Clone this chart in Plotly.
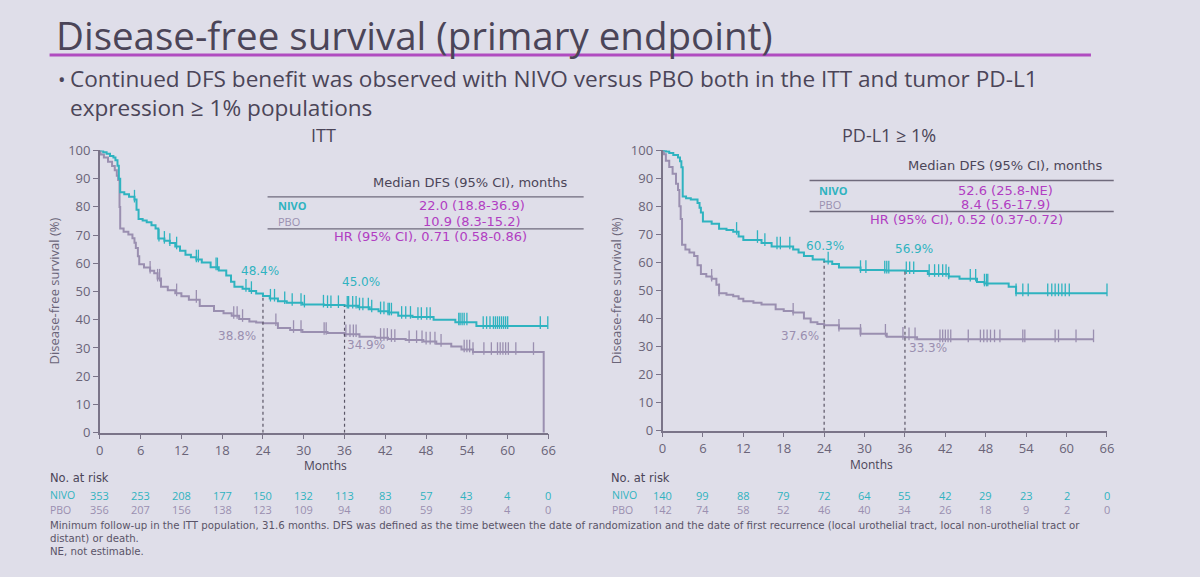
import plotly.graph_objects as go

# ---------------- data ----------------
months_ticks = [0, 6, 12, 18, 24, 30, 36, 42, 48, 54, 60, 66]
surv_ticks = [0, 10, 20, 30, 40, 50, 60, 70, 80, 90, 100]

# ITT population
itt_nivo_t = [0, 0.5, 1.0, 1.5, 2.0, 2.3, 2.6, 2.8, 3.0, 3.6, 4.3, 5.1, 5.4, 5.7, 6.3, 6.9, 7.6, 8.2, 8.6, 9.5,
              10.3, 11.1, 11.8, 12.6, 13.4, 14.2, 15.0, 16.3, 17.5, 18.6, 19.3, 19.8, 21.0, 22.0, 23.0, 24.0,
              25.0, 26.2, 27.5, 29.8, 33.0, 36.0, 38.0, 39.7, 41.0, 42.4, 43.9, 46.0, 49.1, 52.3, 55.4, 65.9]
itt_nivo_s = [100, 99.4, 98.8, 98, 97.5, 96.5, 94.6, 90, 85.2, 84.5, 83.6, 82.6, 79, 75.7, 75.2, 74.6, 73.5, 72.3,
              68.8, 68.0, 67.2, 66.0, 64.5, 63.0, 62.2, 61.4, 60.3, 58.6, 57.5, 55.7, 53.5, 51.7, 51.0, 50.2, 49.3,
              48.4, 47.5, 46.6, 46.0, 45.4, 45.2, 45.0, 44.4, 43.7, 43.0, 42.6, 41.4, 41.0, 40.0, 39.1, 37.8, 37.8]
itt_nivo_cens = [5.1, 8.7, 9.5, 10.3, 11.3, 14.2, 14.5, 17.1, 17.3, 21.5, 22.3, 25.1, 25.7, 27.2, 28.3, 29.6, 30.1,
                 32.9, 33.5, 34.0, 35.1, 36.4, 36.6, 37.2, 37.7, 38.2, 38.7, 39.5, 40.0, 41.3, 41.8, 42.4, 42.6,
                 42.9, 44.4, 45.0, 45.7, 46.8, 47.3, 48.1, 48.6, 52.8, 53.0, 53.3, 53.6, 54.0, 56.4, 56.9, 57.4,
                 57.9, 58.2, 58.5, 58.8, 59.1, 59.4, 59.7, 60.0, 64.8, 65.9]

itt_pbo_t = [0, 0.1, 0.6, 1.2, 1.8, 2.2, 2.5, 2.7, 2.9, 3.0, 3.5, 4.2, 4.8, 5.1, 5.3, 5.6, 5.8, 6.5, 7.4, 8.0, 8.5,
             9.0, 10.0, 11.1, 12.0, 13.1, 14.7, 16.8, 18.2, 19.4, 20.5, 22.0, 23.0, 24.0, 26.2, 28.0, 29.8, 33.5,
             36.0, 38.2, 40.5, 42.4, 45.0, 47.6, 49.5, 51.7, 53.2, 54.9, 65.3, 65.3]
itt_pbo_s = [100, 98.6, 97.5, 96, 94.5, 93, 91, 89.5, 80, 72.3, 71.2, 70.2, 68.9, 67.3, 65.4, 62.5, 59.7, 58.5,
             57.4, 56.5, 54.6, 51.7, 50.5, 49.4, 48.3, 47.1, 44.9, 43.1, 42.3, 41.4, 40.3, 39.4, 39.0, 38.8, 37.1,
             36.4, 35.7, 35.3, 34.9, 34.0, 33.6, 33.2, 32.8, 32.3, 31.5, 30.5, 29.5, 28.6, 28.6, 0]
itt_pbo_cens = [7.4, 8.5, 8.8, 11.3, 14.2, 19.7, 20.2, 21.0, 25.9, 28.5, 29.6, 33.0, 33.3, 36.2, 36.8, 37.3, 37.7,
                41.3, 41.8, 42.3, 42.9, 43.4, 45.5, 46.6, 47.4, 48.0, 48.6, 49.3, 50.2, 53.6, 54.0, 54.4, 54.9,
                56.5, 57.6, 58.5, 58.9, 59.3, 59.7, 60.1, 61.2, 63.8]

# PD-L1 >= 1% population
pdl1_nivo_t = [0, 0.5, 1.0, 1.6, 2.3, 2.6, 2.8, 3.0, 3.5, 4.2, 5.2, 5.5, 5.7, 6.0, 7.3, 8.4, 9.5, 10.5, 11.3, 12.0,
               14.7, 16.2, 19.4, 20.2, 21.0, 22.3, 24.0, 25.2, 26.2, 29.4, 33.0, 36.0, 39.4, 42.5, 44.1, 46.7,
               47.8, 51.4, 52.5, 66.0]
pdl1_nivo_s = [100, 99.5, 99, 98.3, 97.4, 96, 93.9, 83.5, 82.9, 82.4, 81.2, 79.5, 77.8, 74.6, 73.8, 72, 71.5, 70.9,
               69.2, 68, 66.9, 65.7, 64.6, 63.5, 62.3, 61.0, 60.3, 59.4, 58.2, 57.3, 57.1, 56.9, 55.9, 55.0, 54.2,
               53, 52.5, 51.3, 49.0, 49.0]
pdl1_nivo_cens = [11.0, 14.1, 15.2, 17.0, 17.5, 18.9, 24.6, 29.4, 30.2, 33.0, 33.3, 33.6, 36.2, 36.7, 37.3, 39.6,
                  40.4, 41.0, 41.6, 42.1, 42.5, 45.7, 46.5, 47.8, 48.1, 48.3, 52.5, 53.5, 54.3, 57.2, 57.8, 58.3,
                  58.8, 59.3, 59.8, 60.4, 66.0]

pdl1_pbo_t = [0, 0.2, 0.5, 1.0, 1.5, 2.0, 2.3, 2.5, 2.7, 2.9, 3.4, 4.0, 4.7, 5.2, 5.7, 6.5, 7.3, 8.0, 8.4, 9.5,
              10.5, 11.3, 12.0, 13.5, 14.7, 16.8, 18.0, 19.4, 21.0, 22.0, 23.0, 24.0, 26.2, 29.4, 33.3, 36.0, 37.8,
              64.0]
pdl1_pbo_s = [100, 98.5, 96.2, 94, 91.6, 88, 85.8, 80, 75.5, 66.3, 64.6, 63.5, 62.3, 59, 55.9, 55, 54.2, 52, 49,
              48.5, 47.9, 47, 46.1, 45.6, 45, 43.3, 42.7, 42.1, 40, 38.7, 38, 37.6, 36.4, 34.6, 33.5, 33.3, 32.6,
              32.6]
pdl1_pbo_cens = [7.3, 8.4, 19.4, 26.2, 29.4, 33.1, 35.7, 36.6, 37.5, 41.2, 41.6, 42.0, 42.4, 42.8, 45.4, 47.2,
                 47.7, 48.2, 48.7, 49.3, 50.1, 53.5, 53.8, 58.3, 58.8, 61.4, 64.0]

# landmark rates
landmark_months = [24, 36]
itt_nivo_land = [48.4, 45.0]
itt_pbo_land = [38.8, 34.9]
pdl1_nivo_land = [60.3, 56.9]
pdl1_pbo_land = [37.6, 33.3]

# numbers at risk
itt_nivo_risk = [353, 253, 208, 177, 150, 132, 113, 83, 57, 43, 4, 0]
itt_pbo_risk = [356, 207, 156, 138, 123, 109, 94, 80, 59, 39, 4, 0]
pdl1_nivo_risk = [140, 99, 88, 79, 72, 64, 55, 42, 29, 23, 2, 0]
pdl1_pbo_risk = [142, 74, 58, 52, 46, 40, 34, 26, 18, 9, 2, 0]

# summary tables
itt_table = ["22.0 (18.8-36.9)", "10.9 (8.3-15.2)", "HR (95% CI), 0.71 (0.58-0.86)"]
pdl1_table = ["52.6 (25.8-NE)", "8.4 (5.6-17.9)", "HR (95% CI), 0.52 (0.37-0.72)"]

# ---------------- styles ----------------
W, H = 1200, 577
BG = "#dfdee9"
TEAL = "#2fb3c0"
PBO = "#9a8fb0"
MAG = "#b13dc2"
DARK = "#4b4558"
AXC = "#7a7488"
TXT = "#6a6478"
FONT = "Open Sans"
FONT2 = "DejaVu Sans"


def px(x):
    return x / W


def py(y):
    return 1 - y / H


def surv_at(t, times, vals):
    v = vals[0]
    for ti, vi in zip(times, vals):
        if ti <= t:
            v = vi
        else:
            break
    return v


fig = go.Figure()

panels = [
    dict(xa="x", ya="y", xdom=[96.7 / W, 549.5 / W], ydom=[1 - 437.3 / H, 1 - 146 / H],
         nivo=(itt_nivo_t, itt_nivo_s, itt_nivo_cens), pbo=(itt_pbo_t, itt_pbo_s, itt_pbo_cens),
         nland=itt_nivo_land, pland=itt_pbo_land, nrisk=itt_nivo_risk, prisk=itt_pbo_risk,
         table=itt_table),
    dict(xa="x2", ya="y2", xdom=[664.6 / W, 1113.2 / W], ydom=[1 - 435.3 / H, 1 - 145.7 / H],
         nivo=(pdl1_nivo_t, pdl1_nivo_s, pdl1_nivo_cens), pbo=(pdl1_pbo_t, pdl1_pbo_s, pdl1_pbo_cens),
         nland=pdl1_nivo_land, pland=pdl1_pbo_land, nrisk=pdl1_nivo_risk, prisk=pdl1_pbo_risk,
         table=pdl1_table),
]

for p in panels:
    for (t, s, c), col in [(p["pbo"], PBO), (p["nivo"], TEAL)]:
        fig.add_trace(go.Scatter(x=t, y=s, mode="lines", line=dict(color=col, width=2, shape="hv"),
                                 xaxis=p["xa"], yaxis=p["ya"], cliponaxis=False, showlegend=False,
                                 hoverinfo="skip"))
        fig.add_trace(go.Scatter(x=c, y=[surv_at(ci, t, s) + 1.2 for ci in c], mode="markers",
                                 marker=dict(symbol="line-ns-open", size=9, color=col,
                                             line=dict(color=col, width=1.3)),
                                 xaxis=p["xa"], yaxis=p["ya"], cliponaxis=False, showlegend=False,
                                 hoverinfo="skip"))

axis_common = dict(showline=True, linecolor=AXC, linewidth=1.5, ticks="outside", ticklen=5, tickwidth=1.3,
                   tickcolor=AXC, tickfont=dict(family=FONT, size=13, color=TXT), showgrid=False,
                   zeroline=False)

fig.update_layout(
    width=W, height=H, margin=dict(l=0, r=0, t=0, b=0),
    paper_bgcolor=BG, plot_bgcolor=BG, showlegend=False,
    xaxis=dict(domain=panels[0]["xdom"], range=[0, 66], tickvals=months_ticks, anchor="y", **axis_common),
    yaxis=dict(domain=panels[0]["ydom"], range=[0, 100], tickvals=surv_ticks, anchor="x", **axis_common),
    xaxis2=dict(domain=panels[1]["xdom"], range=[0, 66], tickvals=months_ticks, anchor="y2", **axis_common),
    yaxis2=dict(domain=panels[1]["ydom"], range=[0, 100], tickvals=surv_ticks, anchor="x2", **axis_common),
)

ann = []
shapes = []


def A(x, y, text, size=12, color=DARK, xanchor="center", family=FONT, **kw):
    d = dict(x=x, y=y, xref="paper", yref="paper", text=text, showarrow=False, xanchor=xanchor,
             yanchor="middle", font=dict(family=family, size=size, color=color), borderpad=0)
    d.update(kw)
    ann.append(d)


# title
A(px(51), py(27), "Disease-free survival (primary endpoint)", size=38.5, color=DARK, xanchor="left")
shapes.append(dict(type="line", xref="paper", yref="paper", x0=px(46), x1=px(1097), y0=py(47.5), y1=py(47.5),
                   line=dict(color="#b04cc0", width=3)))
A(px(53), py(73), "•", size=20, color=DARK, xanchor="left")
A(px(66), py(86.5), "Continued DFS benefit was observed with NIVO versus PBO both in the ITT and tumor PD-L1"
  "<br>expression ≥ 1% populations", size=22.6, color=DARK, xanchor="left", align="left")

# panel titles
A(px(322), py(130), "ITT", size=18, color=DARK)
A(px(893), py(130), "PD-L1 ≥ 1%", size=18, color=DARK)

# axis titles
A(px(50), py(291), "Disease-free survival (%)", size=13, color=TXT, textangle=-90)
A(px(618), py(291), "Disease-free survival (%)", size=13, color=TXT, textangle=-90)
A(px(324), py(471), "Months", size=12, color=DARK)
A(px(876), py(470), "Months", size=12, color=DARK)

# tables
tables = [
    dict(hx=471, hy=179, l1=194, x0=266, x1=585, lx=276, r1=203, r2=219, l2=227, vx=472, hry=235, hrx=430),
    dict(hx=1011, hy=162, l1=177, x0=813, x1=1120, lx=822, r1=187, r2=202, l2=209, vx=1011, hry=217, hrx=971),
]
for p, tb in zip(panels, tables):
    A(px(tb["hx"]), py(tb["hy"]), "Median DFS (95% CI), months", size=13, color=DARK, family=FONT2)
    for yy in (tb["l1"], tb["l2"]):
        shapes.append(dict(type="line", xref="paper", yref="paper", x0=px(tb["x0"]), x1=px(tb["x1"]),
                           y0=py(yy), y1=py(yy), line=dict(color="#6f6a7c", width=1.3)))
    A(px(tb["lx"]), py(tb["r1"]), "<b>NIVO</b>", size=11, color=TEAL, xanchor="left", family=FONT)
    A(px(tb["lx"]), py(tb["r2"]), "PBO", size=11, color=PBO, xanchor="left", family=FONT)
    A(px(tb["vx"]), py(tb["r1"]), p["table"][0], size=13, color=MAG, family=FONT2)
    A(px(tb["vx"]), py(tb["r2"]), p["table"][1], size=13, color=MAG, family=FONT2)
    A(px(tb["hrx"]), py(tb["hry"]), p["table"][2], size=13, color=MAG, family=FONT2)

# landmark annotations and dashed lines
land_pos = [
    dict(n=[(23.6, 57.4), (38.4, 53.4)], p=[(20.2, 34.3), (39.2, 30.9)]),
    dict(n=[(24.1, 65.7), (37.3, 64.6)], p=[(20.4, 33.8), (39.4, 29.5)]),
]
for p, lp in zip(panels, land_pos):
    for i, m in enumerate(landmark_months):
        shapes.append(dict(type="line", xref=p["xa"], yref=p["ya"], x0=m, x1=m, y0=0, y1=p["nland"][i],
                           line=dict(color="#5a5566", width=1.2, dash="3px,3px")))
        ann.append(dict(x=lp["n"][i][0], y=lp["n"][i][1], xref=p["xa"], yref=p["ya"], showarrow=False,
                        xanchor="center", yanchor="middle",
                        text=f"{p['nland'][i]:.1f}%", font=dict(family=FONT2, size=12, color=TEAL)))
        ann.append(dict(x=lp["p"][i][0], y=lp["p"][i][1], xref=p["xa"], yref=p["ya"], showarrow=False,
                        xanchor="center", yanchor="middle",
                        text=f"{p['pland'][i]:.1f}%", font=dict(family=FONT2, size=12, color=PBO)))

# numbers at risk
risk_pos = [dict(hx=45, lx=45), dict(hx=612, lx=613)]
for p, rp in zip(panels, risk_pos):
    A(px(rp["hx"]), py(484), "No. at risk", size=11.5, color=DARK, xanchor="left", family=FONT2)
    A(px(rp["lx"]), py(502), "NIVO", size=10.5, color=TEAL, xanchor="left", family=FONT)
    A(px(rp["lx"]), py(517), "PBO", size=10.5, color=PBO, xanchor="left", family=FONT)
    for m, nv, pv in zip(months_ticks, p["nrisk"], p["prisk"]):
        ann.append(dict(x=m, y=py(502), xref=p["xa"], yref="paper", showarrow=False, text=str(nv),
                        xanchor="center", yanchor="middle",
                        font=dict(family=FONT, size=11, color=TEAL), borderpad=0))
        ann.append(dict(x=m, y=py(517), xref=p["xa"], yref="paper", showarrow=False, text=str(pv),
                        xanchor="center", yanchor="middle",
                        font=dict(family=FONT, size=11, color=PBO), borderpad=0))

# footnotes
FN = "#5a5468"
A(px(45), py(533), "Minimum follow-up in the ITT population, 31.6 months. DFS was defined as the time between the "
  "date of randomization and the date of first recurrence (local urothelial tract, local non-urothelial tract or",
  size=10.2, color=FN, xanchor="left", family=FONT2)
A(px(45), py(546.5), "distant) or death.", size=10.2, color=FN, xanchor="left", family=FONT2)
A(px(45), py(560), "NE, not estimable.", size=10.2, color=FN, xanchor="left", family=FONT2)

fig.update_layout(annotations=ann, shapes=shapes)
fig.write_html("out.html")
